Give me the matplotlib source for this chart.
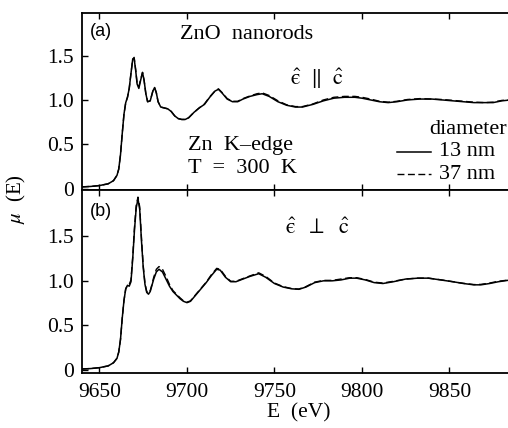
import matplotlib
matplotlib.use('Agg')
import matplotlib.pyplot as plt

plt.rcParams['font.family'] = ['Liberation Serif', 'DejaVu Serif']
plt.rcParams['mathtext.fontset'] = 'stix'

# ---------------- data ----------------
E_a = [9640, 9645, 9650, 9655, 9658, 9660, 9661, 9662, 9663, 9664, 9665, 9666,
       9667, 9668, 9669, 9669.8, 9670.7, 9671.5, 9672.5, 9673.5, 9674.6, 9675.5,
       9676.5, 9677.5, 9679, 9680.5, 9681.5, 9682.5, 9683.5, 9685, 9687, 9689,
       9691, 9693, 9695, 9697, 9699, 9701, 9704, 9707, 9710, 9713, 9716, 9718,
       9720, 9723, 9726, 9729, 9732, 9736, 9740, 9743, 9747, 9752, 9757, 9762,
       9766, 9772, 9778, 9784, 9790, 9796, 9800, 9805, 9810, 9815, 9820, 9826,
       9833, 9840, 9846, 9852, 9858, 9864, 9870, 9875, 9880, 9885]
mu_a_13 = [0.02, 0.025, 0.035, 0.055, 0.09, 0.15, 0.22, 0.38, 0.62, 0.84, 0.97, 1.03,
           1.13, 1.30, 1.46, 1.47, 1.33, 1.18, 1.13, 1.22, 1.31, 1.22,
           1.07, 0.98, 0.99, 1.10, 1.14, 1.08, 0.98, 0.92, 0.91, 0.90,
           0.87, 0.82, 0.79, 0.78, 0.78, 0.80, 0.86, 0.91, 0.95, 1.03, 1.10, 1.12,
           1.08, 1.01, 0.98, 0.98, 1.01, 1.04, 1.06, 1.07, 1.04, 0.98, 0.94, 0.92,
           0.92, 0.95, 0.99, 1.02, 1.03, 1.03, 1.02, 1.00, 0.98, 0.97, 0.98, 1.00,
           1.01, 1.01, 1.00, 0.99, 0.98, 0.97, 0.97, 0.97, 0.99, 1.00]
mu_a_37 = [0.02, 0.025, 0.035, 0.055, 0.09, 0.15, 0.22, 0.38, 0.62, 0.84, 0.97, 1.03,
           1.13, 1.30, 1.46, 1.48, 1.34, 1.19, 1.15, 1.23, 1.31, 1.22,
           1.07, 0.98, 0.99, 1.10, 1.14, 1.08, 0.98, 0.92, 0.91, 0.90,
           0.87, 0.82, 0.79, 0.78, 0.78, 0.80, 0.86, 0.91, 0.955, 1.035, 1.10, 1.125,
           1.085, 1.015, 0.985, 0.985, 1.015, 1.045, 1.07, 1.08, 1.05, 0.99, 0.945, 0.925,
           0.925, 0.955, 1.00, 1.03, 1.04, 1.04, 1.03, 1.01, 0.985, 0.975, 0.985, 1.005,
           1.015, 1.01, 1.005, 0.995, 0.985, 0.975, 0.97, 0.975, 0.995, 1.00]

E_b = [9640, 9645, 9650, 9655, 9658, 9660, 9661, 9662, 9663, 9664, 9665, 9666,
       9667, 9668, 9669, 9670, 9671, 9672, 9673, 9674, 9675, 9676, 9677, 9678,
       9679, 9680, 9681, 9682.5, 9684, 9686, 9688, 9690, 9692, 9694, 9696, 9698,
       9700, 9702, 9705, 9708, 9711, 9714, 9717, 9719, 9722, 9725, 9728, 9732,
       9736, 9741, 9745, 9750, 9755, 9760, 9764, 9768, 9773, 9778, 9783, 9788,
       9793, 9797, 9802, 9807, 9812, 9818, 9825, 9832, 9838, 9845, 9852, 9858,
       9864, 9868, 9873, 9878, 9885]
mu_b_13 = [0.01, 0.015, 0.025, 0.045, 0.08, 0.13, 0.20, 0.34, 0.58, 0.78, 0.91, 0.95,
           0.94, 0.99, 1.25, 1.57, 1.82, 1.92, 1.80, 1.45, 1.15, 0.96, 0.87, 0.85,
           0.88, 0.95, 1.02, 1.10, 1.13, 1.10, 1.02, 0.94, 0.88, 0.84, 0.80, 0.77,
           0.755, 0.77, 0.84, 0.91, 0.98, 1.06, 1.13, 1.12, 1.04, 0.99, 0.99, 1.02,
           1.05, 1.08, 1.04, 0.97, 0.93, 0.91, 0.905, 0.93, 0.98, 1.00, 1.00, 1.01,
           1.03, 1.03, 1.01, 0.98, 0.97, 0.99, 1.02, 1.03, 1.03, 1.01, 0.99, 0.97,
           0.955, 0.955, 0.97, 0.99, 1.01]
mu_b_37 = [0.01, 0.015, 0.025, 0.045, 0.08, 0.13, 0.20, 0.34, 0.58, 0.78, 0.91, 0.95,
           0.96, 1.01, 1.27, 1.60, 1.85, 1.94, 1.83, 1.48, 1.17, 0.97, 0.88, 0.86,
           0.89, 0.96, 1.04, 1.13, 1.16, 1.13, 1.05, 0.96, 0.89, 0.85, 0.81, 0.775,
           0.76, 0.775, 0.845, 0.915, 0.985, 1.07, 1.14, 1.13, 1.05, 0.995, 0.995, 1.025,
           1.055, 1.09, 1.05, 0.975, 0.935, 0.912, 0.908, 0.935, 0.985, 1.005, 1.005, 1.02,
           1.035, 1.035, 1.015, 0.985, 0.975, 0.995, 1.02, 1.03, 1.03, 1.012, 0.99, 0.972,
           0.958, 0.96, 0.975, 0.995, 1.012]

x_ticks = [9650, 9700, 9750, 9800, 9850]
x_ticklabels = ['9650', '9700', '9750', '9800', '9850']
y_ticks = [0, 0.5, 1.0, 1.5]
y_ticklabels = ['0', '0.5', '1.0', '1.5']
series_labels = ['13 nm', '37 nm']

assert len(E_a) == len(mu_a_13) == len(mu_a_37)
assert len(E_b) == len(mu_b_13) == len(mu_b_37)

# ---------------- figure ----------------
fig = plt.figure(figsize=(5.08, 4.28), dpi=100)
axa = fig.add_axes([0.1614, 0.5561, 0.8386, 0.4135])
axb = fig.add_axes([0.1614, 0.1285, 0.8386, 0.4276])

dash = (0, (5, 2.5))
axa.plot(E_a, mu_a_13, color='black', lw=1.1)
axa.plot(E_a, mu_a_37, color='black', lw=1.0, ls=dash)
axb.plot(E_b, mu_b_13, color='black', lw=1.1)
axb.plot(E_b, mu_b_37, color='black', lw=1.0, ls=dash)

axa.set_ylim(-0.015, 1.98)
axb.set_ylim(-0.035, 2.02)
for ax in (axa, axb):
    ax.set_xlim(9640, 9883.5)
    ax.set_xticks(x_ticks)
    ax.set_xticklabels(x_ticklabels)
    ax.set_yticks(y_ticks)
    ax.set_yticklabels(y_ticklabels)
    ax.tick_params(direction='in', top=True, bottom=True, left=True, right=False,
                   length=4.5, width=1.0, labelsize=15.5, pad=6)
    for s in ('left', 'top', 'bottom'):
        ax.spines[s].set_linewidth(1.3)
    ax.spines['right'].set_visible(False)
axa.tick_params(labelbottom=False)
axb.tick_params(axis='x', pad=7)

# ---------------- annotations ----------------
fs = 16
axa.text(0.019, 0.893, '(a)', transform=axa.transAxes, family='Liberation Sans',
         fontsize=13, ha='left', va='center')
axb.text(0.019, 0.88, '(b)', transform=axb.transAxes, family='Liberation Sans',
         fontsize=13, ha='left', va='center')
axa.text(0.230, 0.876, 'ZnO  nanorods', transform=axa.transAxes, fontsize=fs,
         ha='left', va='center')
axa.text(0.552, 0.63, r'$\hat{\mathrm{ϵ}}\ \ \Vert\ \ \hat{\mathrm{c}}$', transform=axa.transAxes,
         fontsize=fs, ha='center', va='center')
axb.text(0.552, 0.79, r'$\hat{\mathrm{ϵ}}\ \ \perp\ \ \hat{\mathrm{c}}$', transform=axb.transAxes,
         fontsize=fs, ha='center', va='center')
axa.text(0.249, 0.254, 'Zn  K\u2013edge', transform=axa.transAxes, fontsize=fs,
         ha='left', va='center')
axa.text(0.249, 0.124, 'T  =  300  K', transform=axa.transAxes, fontsize=fs,
         ha='left', va='center')
axa.text(0.998, 0.339, 'diameter', transform=axa.transAxes, fontsize=fs,
         ha='right', va='center')
axa.text(0.838, 0.215, series_labels[0], transform=axa.transAxes, fontsize=fs,
         ha='left', va='center')
axa.text(0.838, 0.09, series_labels[1], transform=axa.transAxes, fontsize=fs,
         ha='left', va='center')
axa.plot([0.739, 0.819], [0.215, 0.215], transform=axa.transAxes, color='black', lw=1.1)
axa.plot([0.739, 0.819], [0.09, 0.09], transform=axa.transAxes, color='black', lw=1.0, ls=dash)

fig.text(16 / 508, 1 - 199 / 428, r'$\mu$  (E)', rotation=90, fontsize=15,
         ha='center', va='center')
fig.text(299 / 508, 1 - 413 / 428, 'E  (eV)', fontsize=15.5, ha='center', va='center')

fig.savefig('out.png', dpi=100)
